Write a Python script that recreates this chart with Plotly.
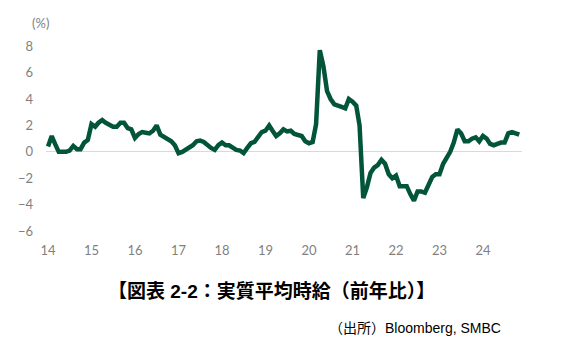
import pandas as pd
import plotly.graph_objects as go

start_month = "2014-01-01"
values = [
    0.4, 1.2, 0.6, 0.0, 0.0, 0.0, 0.1, 0.45, 0.2, 0.2, 0.7, 0.9,
    2.1, 1.9, 2.2, 2.4, 2.2, 2.0, 1.9, 1.9, 2.2, 2.2, 1.8, 1.7,
    1.05, 1.35, 1.5, 1.45, 1.4, 1.6, 2.0, 1.3, 1.1, 1.0, 0.8, 0.5,
    -0.1, 0.0, 0.15, 0.25, 0.5, 0.8, 0.85, 0.75, 0.5, 0.3, 0.15, 0.5,
    0.7, 0.5, 0.5, 0.3, 0.15, 0.1, -0.1, 0.3, 0.65, 0.75, 1.1, 1.5,
    1.6, 2.0, 1.6, 1.2, 1.4, 1.7, 1.55, 1.6, 1.35, 1.3, 1.2, 0.8,
    0.65, 0.75, 2.1, 7.7, 6.5, 4.6, 4.0, 3.6, 3.45, 3.4, 3.3, 4.0,
    3.8, 3.5, 2.0, -3.5, -2.7, -1.6, -1.2, -1.0, -0.6, -0.9, -1.7, -2.0,
    -1.8, -2.6, -2.6, -2.6, -3.2, -3.7, -3.0, -3.0, -3.1, -2.5, -1.9, -1.7,
    -1.7, -0.9, -0.5, 0.0, 0.7, 1.7, 1.4, 0.8, 0.8, 1.0, 1.1, 0.8,
    1.2, 1.0, 0.6, 0.5, 0.6, 0.7, 0.7, 1.4, 1.5, 1.4, 1.3,
]
dates = pd.date_range(start_month, periods=len(values), freq="MS")

x_tick_years = list(range(2014, 2025))
x_tick_text = [str(y)[2:] for y in x_tick_years]
y_ticks = [8, 6, 4, 2, 0, -2, -4, -6]

title_text = "<b>【図表 2-2：実質平均時給（前年比）】</b>"
source_text = "（出所）Bloomberg, SMBC"
unit_text = "(%)"

W, H = 572, 354
pl, pr, pt, pb = 46, 50, 33, 115
pw, ph = W - pl - pr, H - pt - pb


def px_x(x):
    return (x - pl) / pw


def px_y(y):
    return 1 - (y - pt) / ph


fig = go.Figure()
fig.add_trace(go.Scatter(
    x=dates, y=values, mode="lines",
    line=dict(color="#02553A", width=4.5),
    hoverinfo="skip",
))

tick_font = dict(family="Lato, 'Open Sans', sans-serif", size=13, color="#7F7F7F")

fig.update_layout(
    width=W, height=H,
    margin=dict(l=pl, r=pr, t=pt, b=pb),
    paper_bgcolor="white", plot_bgcolor="white",
    showlegend=False,
    xaxis=dict(
        range=["2013-12-15", "2024-11-24"],
        tickvals=[pd.Timestamp(f"{y}-01-01") for y in x_tick_years],
        ticktext=x_tick_text,
        showgrid=False, zeroline=False, showline=False,
        ticks="", tickfont=tick_font, ticklabelstandoff=2,
    ),
    yaxis=dict(
        range=[-6.6, 9.0],
        tickvals=y_ticks,
        showgrid=False,
        zeroline=True, zerolinecolor="#D9D9D9", zerolinewidth=1,
        showline=False, ticks="", tickfont=tick_font,
        ticklabelstandoff=12,
    ),
    annotations=[
        dict(text=unit_text, x=px_x(40), y=px_y(23), xref="paper", yref="paper",
             xanchor="center", yanchor="middle", showarrow=False, font=tick_font),
        dict(text=title_text, x=px_x(271.5), y=px_y(290.5), xref="paper", yref="paper",
             xanchor="center", yanchor="middle", showarrow=False,
             font=dict(family="'Liberation Sans', 'Noto Sans CJK JP', sans-serif",
                       size=19, color="#000000")),
        dict(text=source_text, x=px_x(503), y=px_y(328), xref="paper", yref="paper",
             xanchor="right", yanchor="middle", showarrow=False,
             font=dict(family="'Liberation Sans', 'Noto Sans CJK JP', sans-serif",
                       size=14, color="#000000")),
    ],
)

fig.write_html("out.html")
